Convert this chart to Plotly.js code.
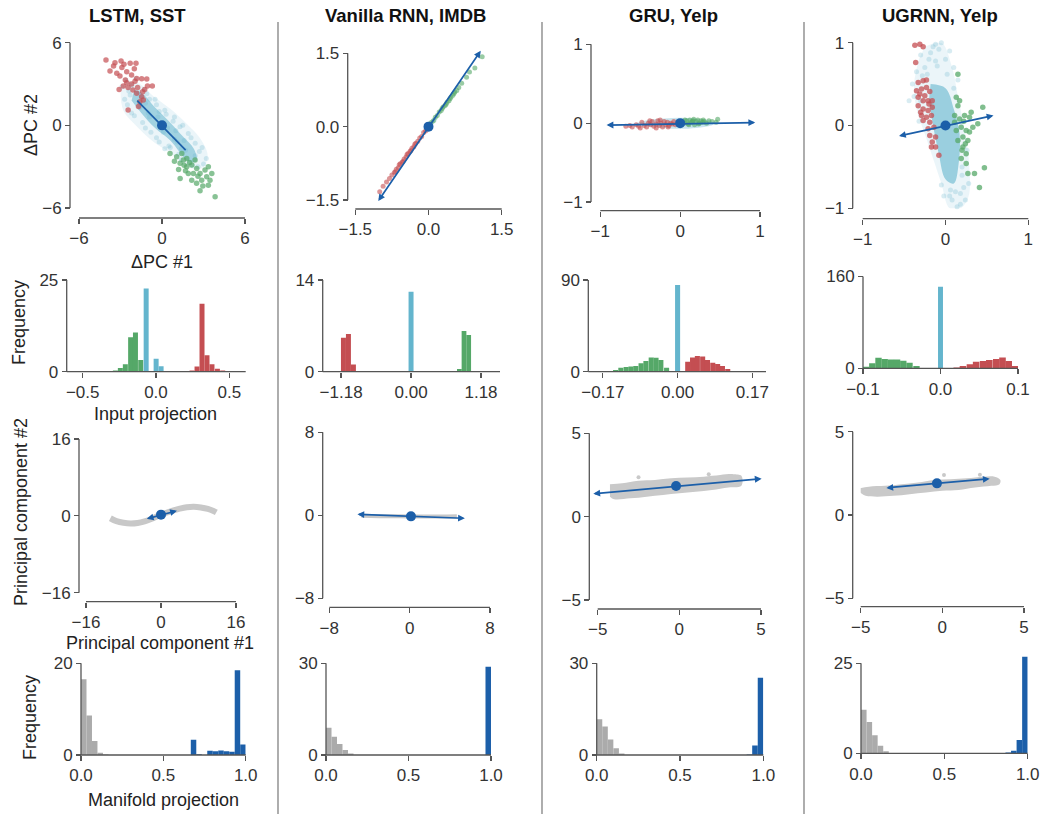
<!DOCTYPE html>
<html><head><meta charset="utf-8">
<script src="https://cdn.plot.ly/plotly-3.0.1.min.js"></script>
<style>html,body{margin:0;padding:0;background:#fff}#c{width:1063px;height:815px}</style>
</head><body><div id="c"></div><script>
// ===================== DATA =====================
const colTitles = ['LSTM, SST', 'Vanilla RNN, IMDB', 'GRU, Yelp', 'UGRNN, Yelp'];

// --- Row 1: ΔPC scatter ---
const p1RedX = [-4.05,-3.4,-2.96,-2.75,-2.3,-1.88,-3.76,-3.27,-3.04,-2.55,-2.2,-1.83,-1.47,-1.1,-3.1,-2.8,-2.45,-2.1,-1.76,-1.4,-1.05,-2.2,-2.55,-1.83,-1.47,-1.35,-1.7,-2.45,-1.6,-0.7,-2.0,-2.65,-1.25,-2.9,-1.95,-3.5];
const p1RedY = [4.75,4.55,4.68,4.44,4.5,4.5,3.95,3.78,3.58,3.9,3.66,3.4,3.38,3.36,2.6,2.85,2.75,2.57,2.75,2.44,2.85,3.0,3.1,2.33,2.08,1.84,1.36,1.12,1.72,2.85,4.1,3.3,2.6,4.2,3.2,4.3];
const p1GreenX = [0.58,1.06,1.43,1.79,1.31,1.79,2.15,2.51,2.75,3.11,3.35,3.23,2.87,2.75,3.84,2.27,1.9,1.55,1.31,2.39,3.35,3.47,2.15,2.5,0.9,1.2,1.6,2.0,2.6,2.95,3.6,1.7];
const p1GreenY = [-2.04,-2.28,-2.04,-2.4,-2.76,-3.0,-2.88,-3.13,-3.49,-3.25,-3.0,-3.73,-3.98,-4.75,-5.19,-3.49,-3.49,-2.52,-3.85,-2.52,-4.35,-3.98,-3.98,-4.2,-2.6,-3.2,-2.9,-2.7,-3.7,-4.4,-3.5,-3.3];
const p1CoreX = [-2.0,-1.4,-0.5,0.5,1.5,2.3,2.5,1.9,0.6,-0.5,-1.5,-2.2];
const p1CoreY = [2.6,2.3,1.3,0.3,-0.8,-1.7,-2.6,-2.6,-1.1,-0.2,0.9,1.8];
const p1HaloX = [-2.6,-1.6,-0.6,0.6,1.8,2.8,3.3,2.9,1.8,0.6,-0.6,-1.8,-2.8,-3.0];
const p1HaloY = [3.3,3.0,2.1,1.2,0.1,-1.0,-2.2,-3.1,-3.0,-2.0,-1.2,-0.1,1.1,2.4];
const p1FaintX = [-2.6,-2.2,-1.9,-1.3,-0.9,-0.4,0.3,0.8,1.3,1.9,2.4,2.9,3.2,2.6,2.0,1.2,0.6,-0.2,-0.8,-1.4,-2.0,-2.5,-0.5,0.5,1.0,-1.0,1.6,-1.7,2.2,-2.3,-1.2,-0.3,0.4,1.1,1.7,-1.6,-0.9,0.1,0.9,1.4,-2.9,-2.4,-1.5,-1.1,-0.2,0.2,0.9,1.5,2.1,2.7,3.0,2.4,1.4,0.2,-0.4,-1.2,-2.2,-2.7];
const p1FaintY = [3.3,2.9,3.4,2.6,1.9,1.5,0.8,0.3,-0.1,-0.6,-1.3,-1.6,-2.4,-3.0,-2.7,-2.1,-1.6,-1.2,-0.5,0.2,0.7,1.5,1.9,-1.5,-0.4,0.9,-1.1,2.4,-2.9,2.2,1.6,0.6,-0.2,-1.2,-1.8,1.3,0.6,-0.5,-1.0,-1.7,2.8,2.5,2.1,2.3,1.0,1.1,0.6,0.0,-0.9,-1.9,-2.8,-2.2,-2.5,-1.7,-0.9,-0.2,0.9,1.9];
const p1LineX = [-1.79, 1.71];
const p1LineY = [1.79, -1.8];

const p2RedX = [-1.0,-0.93,-0.86,-0.8,-0.75,-0.7,-0.66,-0.62,-0.58,-0.54,-0.5,-0.46,-0.42,-0.38,-0.34,-0.3,-0.26,-0.22,-0.18,-0.14,-0.1,-0.06,-0.68,-0.6,-0.52,-0.44,-0.36,-0.28];
const p2RedY = [-1.33,-1.22,-1.13,-1.06,-0.99,-0.94,-0.87,-0.84,-0.76,-0.73,-0.66,-0.62,-0.55,-0.51,-0.44,-0.41,-0.34,-0.3,-0.23,-0.2,-0.12,-0.09,-0.92,-0.78,-0.71,-0.57,-0.49,-0.36];
const p2GreenX = [0.05,0.1,0.14,0.18,0.22,0.26,0.3,0.34,0.38,0.42,0.46,0.5,0.54,0.58,0.62,0.68,0.78,0.84,0.95,1.1,0.28,0.36,0.44,0.52];
const p2GreenY = [0.08,0.12,0.19,0.23,0.3,0.33,0.4,0.43,0.5,0.53,0.6,0.64,0.71,0.74,0.8,0.89,1.01,1.12,1.2,1.43,0.37,0.46,0.57,0.68];
const p2CyanX = [0.02,0.08,-0.05,0.12,0.04];
const p2CyanY = [0.05,0.1,-0.04,0.14,0.02];
const p2ArrowX = [-1.05, 1.07];
const p2ArrowY = [-1.55, 1.55];

const p3RedX = [-0.68,-0.63,-0.6,-0.55,-0.52,-0.48,-0.45,-0.42,-0.4,-0.37,-0.35,-0.33,-0.3,-0.28,-0.26,-0.24,-0.22,-0.2,-0.18,-0.16,-0.14,-0.12,-0.1,-0.08,-0.06,-0.5,-0.38,-0.3,-0.25,-0.15];
const p3RedY = [-0.04,-0.03,-0.05,-0.02,-0.04,0.01,-0.03,-0.05,0.0,-0.02,0.02,-0.04,-0.01,0.03,-0.03,0.0,-0.05,0.02,-0.02,0.01,-0.03,0.0,-0.01,0.02,-0.02,-0.06,0.03,-0.06,0.04,-0.05];
const p3GreenX = [0.02,0.05,0.08,0.1,0.12,0.14,0.16,0.18,0.2,0.22,0.24,0.26,0.28,0.3,0.33,0.36,0.4,0.45,0.47,0.06,0.11,0.17,0.23,0.29,0.15];
const p3GreenY = [0.02,0.0,0.03,-0.01,0.04,0.01,0.03,-0.02,0.02,0.04,0.0,0.03,0.01,0.02,0.0,0.03,0.02,0.01,0.05,0.04,-0.02,0.05,-0.01,0.04,0.02];
const p3CoreX = [-0.55,-0.4,-0.2,0.0,0.2,0.38,0.42,0.3,0.1,-0.1,-0.3,-0.5];
const p3CoreY = [0.0,0.04,0.06,0.07,0.06,0.03,-0.01,-0.05,-0.07,-0.07,-0.05,-0.03];
const p3ArrowX = [-0.94, 0.94];
const p3ArrowY = [-0.025, 0.008];

const p4RedX = [-0.37,-0.31,-0.27,-0.36,-0.33,-0.27,-0.23,-0.35,-0.29,-0.23,-0.19,-0.33,-0.27,-0.21,-0.16,-0.33,-0.27,-0.21,-0.16,-0.29,-0.23,-0.17,-0.27,-0.19,-0.21,-0.19,-0.16,-0.12,-0.08,-0.17,-0.12,-0.14,-0.31,-0.25,-0.2,-0.3];
const p4RedY = [0.97,0.98,0.95,0.76,0.52,0.54,0.55,0.42,0.44,0.46,0.41,0.34,0.3,0.3,0.3,0.24,0.2,0.18,0.22,0.12,0.1,0.12,0.06,0.04,-0.04,-0.12,-0.2,-0.26,-0.36,-0.26,-0.14,-0.02,0.38,0.36,0.26,0.16];
const p4GreenX = [0.15,0.45,0.31,0.39,0.13,0.17,0.11,0.17,0.23,0.19,0.25,0.21,0.27,0.21,0.25,0.19,0.25,0.27,0.35,0.47,0.41,0.13,0.15,0.29,0.33,0.29,0.15,0.11,0.22,0.2,0.24];
const p4GreenY = [0.62,0.22,0.16,0.02,0.34,0.3,0.12,0.08,0.12,-0.02,-0.06,-0.14,-0.18,-0.26,-0.34,-0.4,-0.46,-0.58,-0.58,-0.51,-0.75,-0.06,-0.18,0.1,-0.02,-0.08,0.24,0.04,0.05,-0.3,-0.22];
const p4HaloX = [-0.25,-0.05,0.08,0.15,0.22,0.28,0.28,0.18,0.05,-0.05,-0.15,-0.25,-0.35,-0.38,-0.32];
const p4HaloY = [0.95,1.0,0.7,0.35,0.0,-0.4,-0.85,-1.0,-1.0,-0.7,-0.4,-0.1,0.2,0.5,0.8];
const p4CoreX = [-0.18,0.0,0.1,0.17,0.16,0.1,0.0,-0.08,-0.15,-0.2];
const p4CoreY = [0.5,0.45,0.2,-0.1,-0.45,-0.7,-0.65,-0.35,0.0,0.3];
const p4FaintX = [-0.3,-0.25,-0.15,-0.05,0.05,0.1,0.15,-0.35,-0.4,-0.2,0.12,0.18,0.22,0.2,0.15,0.22,0.25,-0.28,-0.12,0.26,0.08,-0.44,0.1,-0.02,-0.08,-0.18,0.0,-0.1,0.02,-0.22,-0.3,-0.12,0.06,0.18,0.24,0.14,0.2,0.05,-0.05,0.28,-0.38,-0.32];
const p4FaintY = [0.85,0.7,0.95,1.0,0.9,0.7,0.55,0.65,0.5,0.8,-0.8,-0.95,-0.75,-0.6,-1.08,-1.1,-1.02,0.6,0.98,-0.3,-0.9,0.3,0.45,-0.85,0.92,0.88,0.8,0.72,0.62,0.62,0.3,0.78,-0.78,-0.82,-0.9,-0.98,-0.5,-0.85,-0.72,-0.7,0.35,0.05];
const p4ArrowX = [-0.58, 0.58];
const p4ArrowY = [-0.13, 0.12];

// --- Row 2: input projection histograms ---
const p5GreenX = [-0.277,-0.243,-0.209,-0.173,-0.14,-0.104];
const p5GreenY = [0.3,1.0,2.0,9.4,10.7,3.2];
const p5BlueX = [-0.067,0.001,0.035];
const p5BlueY = [22.7,3.5,1.5];
const p5RedX = [0.246,0.28,0.314,0.348,0.382,0.419,0.455];
const p5RedY = [0.3,1.4,18.5,4.5,2.0,0.8,0.3];

const p6RedX = [-1.14,-1.056,-0.972];
const p6RedY = [5.2,5.75,1.1];
const p6BlueX = [0.0];
const p6BlueY = [12.2];
const p6GreenX = [0.815,0.893,0.972];
const p6GreenY = [0.4,6.2,5.6];

const p7GreenX = [-0.141,-0.129,-0.117,-0.106,-0.095,-0.083,-0.072,-0.06,-0.049,-0.038,-0.025];
const p7GreenY = [1.6,3.9,4.5,5.0,5.6,8.2,10.5,14,13.7,11.5,3.9];
const p7BlueX = [0.0];
const p7BlueY = [85];
const p7RedX = [0.023,0.034,0.045,0.057,0.068,0.08,0.091,0.102,0.114];
const p7RedY = [9.8,14,15.4,15,11.5,8.8,7.5,5.6,2.6];

const p8GreenX = [-0.096,-0.088,-0.08,-0.072,-0.064,-0.056,-0.048,-0.04,-0.031];
const p8GreenY = [2.9,8.6,18.4,16,15.5,15.5,13,9.8,4];
const p8BlueX = [0.0];
const p8BlueY = [142];
const p8RedX = [0.021,0.029,0.038,0.046,0.055,0.063,0.072,0.08,0.088,0.096];
const p8RedY = [1.5,4,6.9,11.5,12.6,14.4,16,19,12.6,4];

// --- Row 3: principal components ---
const p9CurveX = [-10.8,-9.5,-8,-6.5,-5,-3.5,-2,-0.5,1,2.5,4,5.5,7,8.5,10,11.2,11.8];
const p9CurveY = [-0.5,-1.1,-1.45,-1.6,-1.5,-1.15,-0.6,0.05,0.6,1.1,1.5,1.8,1.9,1.75,1.45,1.0,0.7];
const p9ArrowX = [-3.35, 3.4];
const p9ArrowY = [-0.69, 1.04];
const p9Center = [0, 0.25];

const p10CurveX = [-4.8,-3,-1,1,3,4.7];
const p10CurveY = [-0.05,-0.08,-0.1,-0.12,-0.12,-0.1];
const p10ArrowX = [-5.35, 5.5];
const p10ArrowY = [0.1, -0.29];
const p10Center = [0.13, -0.1];

const p11CloudX = [-4.25,-3.5,-2.5,-1.5,-0.5,0.5,1.5,2.5,3.3,3.8,3.8,3.0,2.0,1.0,0.0,-1.0,-2.0,-3.0,-4.0,-4.25];
const p11CloudY = [1.95,2.0,2.15,2.2,2.3,2.35,2.4,2.5,2.55,2.45,1.85,1.75,1.6,1.5,1.4,1.3,1.2,1.1,1.05,1.2];
const p11OutX = [-2.5,1.8];
const p11OutY = [2.36,2.55];
const p11ArrowX = [-5.36, 5.04];
const p11ArrowY = [1.36, 2.28];
const p11Center = [-0.2, 1.84];

const p12CloudX = [-5.05,-4.5,-3.5,-2.5,-1.5,-0.5,0.5,1.5,2.5,3.2,3.55,3.5,3.0,2.0,1.0,0.0,-1.0,-2.0,-3.0,-4.0,-4.7,-5.05];
const p12CloudY = [1.6,1.7,1.75,1.85,1.95,2.1,2.15,2.2,2.3,2.3,2.1,1.85,1.75,1.65,1.5,1.45,1.35,1.25,1.15,1.1,1.15,1.35];
const p12OutX = [0.1,2.3];
const p12OutY = [2.4,2.42];
const p12ArrowX = [-3.52, 2.9];
const p12ArrowY = [1.62, 2.18];
const p12Center = [-0.33, 1.9];

// --- Row 4: manifold projection histograms (30 bins on [0,1]) ---
const binCenters = [0.0167,0.05,0.0833,0.1167,0.15,0.1833,0.2167,0.25,0.2833,0.3167,0.35,0.3833,0.4167,0.45,0.4833,0.5167,0.55,0.5833,0.6167,0.65,0.6833,0.7167,0.75,0.7833,0.8167,0.85,0.8833,0.9167,0.95,0.9833];
const p13Gray = [16.5,8.6,3.05,0.5,0.1,0,0,0,0,0,0,0,0,0,0,0,0,0,0,0,0,0,0,0,0,0,0,0,0,0];
const p13Blue = [0,0,0,0,0,0,0,0,0,0,0,0,0,0,0,0,0,0,0,0,3.3,0.15,0,0.9,0.8,1.0,0.8,0.7,18.5,2.3];
const p14Gray = [8.9,6.0,3.6,1.6,0.5,0,0,0,0,0,0,0,0,0,0,0,0,0,0,0,0,0,0,0,0,0,0,0,0,0];
const p14Blue = [0,0,0,0,0,0,0,0,0,0,0,0,0,0,0,0,0,0,0,0,0,0,0,0,0,0,0,0,0,28.9];
const p15Gray = [11.7,9.3,5.1,2.2,0.5,0,0,0,0,0,0,0,0,0,0,0,0,0,0,0,0,0,0,0,0,0,0,0,0,0];
const p15Blue = [0,0,0,0,0,0,0,0,0,0,0,0,0,0,0,0,0,0,0,0,0,0,0,0,0,0,0,0.2,3.1,25.3];
const p16Gray = [12.1,8.7,5.0,2.1,0.6,0.1,0,0,0,0,0,0,0,0,0,0,0,0,0,0,0,0,0,0,0,0,0,0,0,0];
const p16Blue = [0,0,0,0,0,0,0,0,0,0,0,0,0,0,0,0,0,0,0,0,0,0,0,0,0,0,0.2,0.7,3.7,26.8];

// --- Axis spines (tick span), shown ranges and ticks ---
const xSpans = [[-6,6],[-1.5,1.5],[-1,1],[-1,1],[-0.609,0.612],[-1.49,1.5],[-0.203,0.201],[-0.1,0.1],[-16,16],[-8,8],[-5,5],[-5,5],[0,1],[0,1],[0,1],[0,1]];
const ySpans = [[-6,6],[-1.5,1.5],[-1,1],[-1,1],[0,25],[0,14],[0,90],[0,160],[-16,16],[-8,8],[-5,5],[-5,5],[0,20],[0,30],[0,30],[0,25]];
const xShown = [[-6,6],[-1.5,1.5],[-1,1],[-1,1],[-0.609,0.612],[-1.49,1.5],[-0.203,0.201],[-0.1,0.1],[-16,16],[-8,8],[-5.6,5.6],[-5,5],[0,1],[0,1],[0,1],[0,1]];
const yShown = [[-6,6],[-1.7,1.7],[-1,1],[-1,1],[0,25],[0,14],[0,90],[0,160],[-16,16],[-8,8],[-5,5],[-5,5],[0,20],[0,30],[0,30],[0,27.5]];
const xTickVals = [[-6,0,6],[-1.5,0,1.5],[-1,0,1],[-1,0,1],[-0.5,0,0.5],[-1.18,0,1.18],[-0.17,0,0.17],[-0.1,0,0.1],[-16,0,16],[-8,0,8],[-5,0,5],[-5,0,5],[0,0.5,1],[0,0.5,1],[0,0.5,1],[0,0.5,1]];
const xTickText = [['−6','0','6'],['−1.5','0.0','1.5'],['−1','0','1'],['−1','0','1'],['−0.5','0.0','0.5'],['−1.18','0.00','1.18'],['−0.17','0.00','0.17'],['−0.1','0.0','0.1'],['−16','0','16'],['−8','0','8'],['−5','0','5'],['−5','0','5'],['0.0','0.5','1.0'],['0.0','0.5','1.0'],['0.0','0.5','1.0'],['0.0','0.5','1.0']];
const yTickVals = [[-6,0,6],[-1.5,0,1.5],[-1,0,1],[-1,0,1],[0,25],[0,14],[0,90],[0,160],[-16,0,16],[-8,0,8],[-5,0,5],[-5,0,5],[0,20],[0,30],[0,30],[0,25]];
const yTickText = [['−6','0','6'],['−1.5','0.0','1.5'],['−1','0','1'],['−1','0','1'],['0','25'],['0','14'],['0','90'],['0','160'],['−16','0','16'],['−8','0','8'],['−5','0','5'],['−5','0','5'],['0','20'],['0','30'],['0','30'],['0','25']];

// ===================== LAYOUT GEOMETRY (px) =====================
const W = 1063, H = 815;
const fx = v => v / W, fy = v => 1 - v / H;
const FONT = '"Liberation Sans", Arial, Helvetica, sans-serif';
const AX = '#555555';
const RED = '#c44e52', GREEN = '#55a868', CYAN = '#64b5cd', BLUE = '#1c5fa9', GRAY = '#ababab';
// x0,x1: x spine extent; y0,y1: y spine extent (top,bottom); yp: y spine x; xp: x spine y
const G = [
  {x0:79,   x1:245,   y0:42.7,  y1:208,   yp:70,    xp:218},
  {x0:355.3,x1:501.7, y0:53.3,  y1:200,   yp:347.7, xp:209},
  {x0:600.3,x1:760,   y0:44.3,  y1:202,   yp:591,   xp:210.7},
  {x0:862.7,x1:1028.3,y0:42.7,  y1:208.3, yp:852.7, xp:218.7},
  {x0:66.7, x1:245.7, y0:280,   y1:371.7, yp:66.7,  xp:371.7},
  {x0:322.7,x1:500,   y0:280,   y1:371.7, yp:322.7, xp:371.7},
  {x0:588.3,x1:766,   y0:280,   y1:371.7, yp:588.3, xp:371.7},
  {x0:863,  x1:1018,  y0:276.5, y1:368.3, yp:863,   xp:368.3},
  {x0:86,   x1:236,   y0:439,   y1:592.7, yp:79,    xp:601.7},
  {x0:329.3,x1:490,   y0:432.3, y1:598.3, yp:322.7, xp:607.3},
  {x0:597.7,x1:761,   y0:433.3, y1:600,   yp:589.3, xp:609},
  {x0:860.7,x1:1024,  y0:431.7, y1:598.3, yp:852.7, xp:606.7},
  {x0:81,   x1:245.7, y0:663.3, y1:755,   yp:81,    xp:755},
  {x0:326,  x1:491,   y0:663.3, y1:755,   yp:326,   xp:755},
  {x0:596.7,x1:763.3, y0:663.3, y1:755,   yp:596.7, xp:755},
  {x0:861,  x1:1027.7,y0:663.3, y1:753.3, yp:861,   xp:753.3}
];

const layout = {
  width: W, height: H, margin: {l:0, r:0, t:0, b:0},
  paper_bgcolor: '#ffffff', plot_bgcolor: 'rgba(0,0,0,0)',
  showlegend: false, barmode: 'overlay', hovermode: false,
  font: {family: FONT, color: '#333333'},
  annotations: [], shapes: []
};
const axBase = () => ({showgrid:false, zeroline:false, showline:false,
  ticks:'outside', ticklen:5, tickwidth:1.3, tickcolor:AX, fixedrange:true, anchor:'free',
  tickfont:{family:FONT, size:17, color:'#333333'}, tickmode:'array'});
const lerp = (a, b, t) => a + (b - a) * t;
G.forEach((g, i) => {
  const k = i + 1, sfx = k === 1 ? '' : k;
  const xs = xSpans[i], xr = xShown[i], ys = ySpans[i], yr = yShown[i];
  const xpx = v => lerp(g.x0, g.x1, (v - xs[0]) / (xs[1] - xs[0]));
  const ypx = v => lerp(g.y1, g.y0, (v - ys[0]) / (ys[1] - ys[0]));
  layout['xaxis' + sfx] = Object.assign(axBase(), {domain:[fx(xpx(xr[0])), fx(xpx(xr[1]))], range:xr,
    position: fy(g.xp), tickvals:xTickVals[i], ticktext:xTickText[i]});
  layout['yaxis' + sfx] = Object.assign(axBase(), {domain:[fy(ypx(yr[0])), fy(ypx(yr[1]))], range:yr,
    position: fx(g.yp), tickvals:yTickVals[i], ticktext:yTickText[i]});
  layout.shapes.push({type:'line', xref:'paper', yref:'paper', x0:fx(g.x0), x1:fx(g.x1), y0:fy(g.xp), y1:fy(g.xp), line:{color:AX, width:1.3}});
  layout.shapes.push({type:'line', xref:'paper', yref:'paper', x0:fx(g.yp), x1:fx(g.yp), y0:fy(g.y0), y1:fy(g.y1), line:{color:AX, width:1.3}});
});

// column separators
[278, 542, 804].forEach(x => layout.shapes.push({type:'line', xref:'paper', yref:'paper', x0:fx(x), x1:fx(x), y0:fy(22), y1:fy(814), line:{color:'#777777', width:1.2}}));

// titles and axis labels
const ann = (text, x, y, size, opts) => layout.annotations.push(Object.assign({text, xref:'paper', yref:'paper', x:fx(x), y:fy(y), xanchor:'center', yanchor:'middle', showarrow:false, font:{family:FONT, size, color:'#222222'}}, opts || {}));
const colX = [137, 405, 673, 940];
colTitles.forEach((t, i) => ann('<b>' + t + '</b>', colX[i], 16, 18.5, {font:{family:FONT, size:18.5, color:'#111111'}}));
ann('ΔPC #2', 31, 125, 18, {textangle:-90});
ann('ΔPC #1', 162, 262, 18);
ann('Frequency', 19, 323, 18, {textangle:-90});
ann('Input projection', 155, 414, 18);
ann('Principal component #2', 21, 512, 18, {textangle:-90});
ann('Principal component #1', 160, 643, 18);
ann('Frequency', 30, 718, 18, {textangle:-90});
ann('Manifold projection', 163, 800, 18);

// ===================== TRACES =====================
const traces = [];
const xa = k => k === 1 ? 'x' : 'x' + k, ya = k => k === 1 ? 'y' : 'y' + k;
function pts(k, x, y, color, size, opacity) {
  traces.push({type:'scatter', mode:'markers', x, y, xaxis:xa(k), yaxis:ya(k), cliponaxis:false,
    marker:{color, size, opacity, line:{width:0}}, hoverinfo:'skip'});
}
function poly(k, x, y, fill) {
  traces.push({type:'scatter', mode:'lines', x, y, xaxis:xa(k), yaxis:ya(k), fill:'toself',
    fillcolor:fill, line:{width:0, color:fill, shape:'spline'}, hoverinfo:'skip'});
}
function line(k, x, y, color, width) {
  traces.push({type:'scatter', mode:'lines', x, y, xaxis:xa(k), yaxis:ya(k), cliponaxis:false,
    line:{color, width, shape:'spline'}, hoverinfo:'skip'});
}
function bars(k, x, y, color, width) {
  traces.push({type:'bar', x, y, width, xaxis:xa(k), yaxis:ya(k), marker:{color, line:{width:0}}, hoverinfo:'skip'});
}
function arrow(k, x, y) {
  layout.annotations.push({xref:xa(k), yref:ya(k), axref:xa(k), ayref:ya(k), x:x[1], y:y[1], ax:x[0], ay:y[0],
    text:'', showarrow:true, arrowside:'end+start', arrowhead:2, startarrowhead:2, arrowsize:0.8, startarrowsize:0.8,
    arrowwidth:1.7, arrowcolor:BLUE, standoff:0, startstandoff:0});
}
const cyanA = a => 'rgba(100,181,205,' + a + ')';

// Row 1
poly(1, p1HaloX, p1HaloY, cyanA(0.13));
pts(1, p1FaintX, p1FaintY, CYAN, 5, 0.25);
poly(1, p1CoreX, p1CoreY, cyanA(0.55));
pts(1, p1RedX, p1RedY, RED, 5.5, 0.7);
pts(1, p1GreenX, p1GreenY, GREEN, 5.5, 0.7);
traces.push({type:'scatter', mode:'lines', x:p1LineX, y:p1LineY, xaxis:'x', yaxis:'y', line:{color:BLUE, width:1.7}, hoverinfo:'skip'});
pts(1, [0], [0], BLUE, 10, 1);

pts(2, p2CyanX, p2CyanY, CYAN, 5, 0.3);
pts(2, p2RedX, p2RedY, RED, 5, 0.6);
pts(2, p2GreenX, p2GreenY, GREEN, 5, 0.6);
arrow(2, p2ArrowX, p2ArrowY);
pts(2, [0], [0], BLUE, 10, 1);

poly(3, p3CoreX, p3CoreY, cyanA(0.35));
pts(3, p3RedX, p3RedY, RED, 5, 0.6);
pts(3, p3GreenX, p3GreenY, GREEN, 5, 0.6);
arrow(3, p3ArrowX, p3ArrowY);
pts(3, [0], [0], BLUE, 10, 1);

poly(4, p4HaloX, p4HaloY, cyanA(0.13));
pts(4, p4FaintX, p4FaintY, CYAN, 5, 0.25);
poly(4, p4CoreX, p4CoreY, cyanA(0.6));
pts(4, p4RedX, p4RedY, RED, 5.5, 0.75);
pts(4, p4GreenX, p4GreenY, GREEN, 5.5, 0.75);
arrow(4, p4ArrowX, p4ArrowY);
pts(4, [0], [0], BLUE, 10, 1);

// Row 2
bars(5, p5GreenX, p5GreenY, GREEN, 0.034); bars(5, p5BlueX, p5BlueY, CYAN, 0.034); bars(5, p5RedX, p5RedY, RED, 0.034);
bars(6, p6RedX, p6RedY, RED, 0.084); bars(6, p6BlueX, p6BlueY, CYAN, 0.084); bars(6, p6GreenX, p6GreenY, GREEN, 0.08);
bars(7, p7GreenX, p7GreenY, GREEN, 0.0115); bars(7, p7BlueX, p7BlueY, CYAN, 0.0115); bars(7, p7RedX, p7RedY, RED, 0.0115);
bars(8, p8GreenX, p8GreenY, GREEN, 0.0082); bars(8, p8BlueX, p8BlueY, CYAN, 0.0064); bars(8, p8RedX, p8RedY, RED, 0.0085);

// Row 3
line(9, p9CurveX, p9CurveY, '#c8c8c8', 6);
arrow(9, p9ArrowX, p9ArrowY);
pts(9, [p9Center[0]], [p9Center[1]], BLUE, 10, 1);

line(10, p10CurveX, p10CurveY, '#c8c8c8', 4);
arrow(10, p10ArrowX, p10ArrowY);
pts(10, [p10Center[0]], [p10Center[1]], BLUE, 10, 1);

poly(11, p11CloudX, p11CloudY, '#c9c9c9');
pts(11, p11OutX, p11OutY, '#c9c9c9', 4, 1);
arrow(11, p11ArrowX, p11ArrowY);
pts(11, [p11Center[0]], [p11Center[1]], BLUE, 10, 1);

poly(12, p12CloudX, p12CloudY, '#c9c9c9');
pts(12, p12OutX, p12OutY, '#c9c9c9', 4, 1);
arrow(12, p12ArrowX, p12ArrowY);
pts(12, [p12Center[0]], [p12Center[1]], BLUE, 10, 1);

// Row 4
const bw = 1 / 30;
[[13, p13Gray, p13Blue], [14, p14Gray, p14Blue], [15, p15Gray, p15Blue], [16, p16Gray, p16Blue]].forEach(([k, g, b]) => {
  bars(k, binCenters, g, GRAY, bw);
  bars(k, binCenters, b, BLUE, bw);
});

Plotly.newPlot('c', traces, layout, {staticPlot:true, displayModeBar:false});
</script></body></html>
